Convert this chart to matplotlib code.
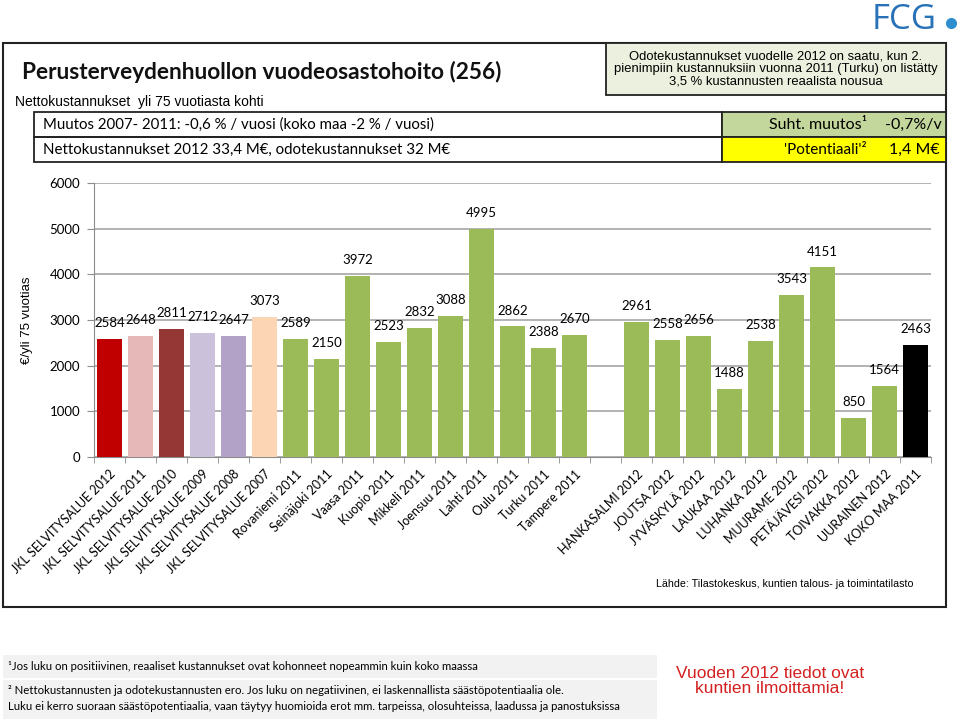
import numpy as np
import matplotlib as mpl
mpl.use('Agg')
import matplotlib.pyplot as plt
from matplotlib.patches import Rectangle

# data
labels = ["JKL SELVITYSALUE 2012", "JKL SELVITYSALUE 2011", "JKL SELVITYSALUE 2010",
          "JKL SELVITYSALUE 2009", "JKL SELVITYSALUE 2008", "JKL SELVITYSALUE 2007",
          "Rovaniemi 2011", "Seinäjoki 2011", "Vaasa 2011", "Kuopio 2011", "Mikkeli 2011",
          "Joensuu 2011", "Lahti 2011", "Oulu 2011", "Turku 2011", "Tampere 2011", "",
          "HANKASALMI 2012", "JOUTSA 2012", "JYVÄSKYLÄ 2012", "LAUKAA 2012", "LUHANKA 2012",
          "MUURAME 2012", "PETÄJÄVESI 2012", "TOIVAKKA 2012", "UURAINEN 2012", "KOKO MAA 2011"]
values = [2584, 2648, 2811, 2712, 2647, 3073, 2589, 2150, 3972, 2523, 2832, 3088, 4995,
          2862, 2388, 2670, np.nan, 2961, 2558, 2656, 1488, 2538, 3543, 4151, 850, 1564, 2463]
green = "#9BBB59"
colors = ["#C00000", "#E6B9B8", "#953735", "#CCC1DA", "#B3A2C7", "#FCD5B5"] + [green] * 20 + ["#000000"]

W, H = 960, 721
fig = plt.figure(figsize=(W / 100, H / 100), dpi=100)
FF = ['Lato', 'DejaVu Sans']
ARIAL = ['Liberation Sans', 'DejaVu Sans']


def fx(x):
    return x / W


def fy(y):
    return 1 - y / H


def box(x0, y0, x1, y1, fc="none", ec="#222222", lw=1.3, z=1):
    fig.patches.append(Rectangle((fx(x0), fy(y1)), fx(x1) - fx(x0), (y1 - y0) / H,
                                 transform=fig.transFigure, fc=fc, ec=ec, lw=lw, zorder=z))


def txt(x, y, s, **kw):
    kw.setdefault('family', FF)
    fig.text(fx(x), fy(y), s, **kw)


# frames
box(3, 43, 946, 607, lw=1.5)
box(606, 43, 946, 95, fc="#EBF1DE")
box(34, 112, 722, 137)
box(34, 137, 722, 162)
box(722, 112, 946, 137, fc="#C3D69B")
box(722, 137, 946, 162, fc="#FFFF00")

# header texts
txt(22, 72, "Perusterveydenhuollon vuodeosastohoito (256)", fontsize=16.3, fontweight='bold',
    va='center', color='#111111')
txt(15, 102, "Nettokustannukset  yli 75 vuotiasta kohti", fontsize=10, va='center', family=ARIAL)
txt(43, 125, "Muutos 2007- 2011: -0,6 % / vuosi (koko maa -2 % / vuosi)", fontsize=10.8, va='center')
txt(43, 150, "Nettokustannukset 2012 33,4 M€, odotekustannukset 32 M€", fontsize=10.8, va='center')
txt(776, 69, "Odotekustannukset vuodelle 2012 on saatu, kun 2.\n"
             "pienimpiin kustannuksiin vuonna 2011 (Turku) on listätty\n"
             "3,5 % kustannusten reaalista nousua",
    fontsize=9.4, ha='center', va='center', family=ARIAL, linespacing=1.1)
txt(867, 125, "Suht. muutos¹", fontsize=11.5, ha='right', va='center')
txt(942, 125, "-0,7%/v", fontsize=11.5, ha='right', va='center')
txt(867, 150, "'Potentiaali'²", fontsize=11, ha='right', va='center')
txt(940, 150, "1,4 M€", fontsize=11.5, ha='right', va='center')

# logo
txt(872, 29, "FCG", fontsize=25, color="#2A72B8", va='baseline', family=['Open Sans', 'DejaVu Sans'])
fig.add_artist(plt.Line2D([fx(951)], [fy(23)], marker='o', ms=7, color="#2E8FD0",
                          transform=fig.transFigure))

# chart
ax = fig.add_axes([fx(94), fy(457), fx(931) - fx(94), (457 - 183) / H])
x = np.arange(len(values))
ax.bar(x, values, width=0.78, color=colors, zorder=3)
for xi, v in zip(x, values):
    if np.isfinite(v):
        ax.annotate(f"{int(v)}", (xi, v), xytext=(0, 7), textcoords='offset points',
                    ha='center', va='bottom', fontsize=9.5, family=FF)
ax.set_xlim(-0.5, len(values) - 0.5)
ax.set_ylim(0, 6000)
ax.set_yticks(range(0, 6001, 1000))
ax.yaxis.grid(True, color="#A6A6A6", lw=1.2, zorder=0)
ax.set_xticks(x)
ax.set_xticklabels(labels, rotation=45, ha='right', rotation_mode='anchor', fontsize=9, family=FF)
ax.set_xticks(np.arange(-0.5, len(values)), minor=True)
ax.tick_params(axis='x', which='major', length=0, pad=8)
ax.tick_params(axis='x', which='minor', length=4, color="#8C8C8C")
ax.tick_params(axis='y', length=5, color="#8C8C8C", labelsize=9.5, pad=5)
for t in ax.get_yticklabels():
    t.set_family(FF)
for s in ['top', 'right']:
    ax.spines[s].set_visible(False)
for s in ['left', 'bottom']:
    ax.spines[s].set_color("#8C8C8C")
ax.set_ylabel("€/yli 75 vuotias", fontsize=9.5, family=ARIAL, labelpad=12)

txt(913, 584, "Lähde: Tilastokeskus, kuntien talous- ja toimintatilasto", fontsize=7.7, ha='right',
    va='center', family=ARIAL)

# footer
box(3, 655, 657, 719, fc="#F2F2F2", ec="none", lw=0)
fig.add_artist(plt.Line2D([fx(3), fx(657)], [fy(679), fy(679)], color="white", lw=1.5,
                          transform=fig.transFigure))
txt(8, 666, "¹Jos luku on positiivinen, reaaliset kustannukset ovat kohonneet nopeammin kuin koko maassa",
    fontsize=8.2, va='center')
txt(8, 691, "² Nettokustannusten ja odotekustannusten ero. Jos luku on negatiivinen, ei laskennallista säästöpotentiaalia ole.",
    fontsize=8.2, va='center')
txt(8, 707, "Luku ei kerro suoraan säästöpotentiaalia, vaan täytyy huomioida erot mm. tarpeissa, olosuhteissa, laadussa ja panostuksissa",
    fontsize=8.2, va='center')
txt(770, 681, "Vuoden 2012 tiedot ovat\nkuntien ilmoittamia!", fontsize=12.5, color="#D42020",
    ha='center', va='center', family=ARIAL, linespacing=1.05)

fig.savefig("out.png", dpi=100)
